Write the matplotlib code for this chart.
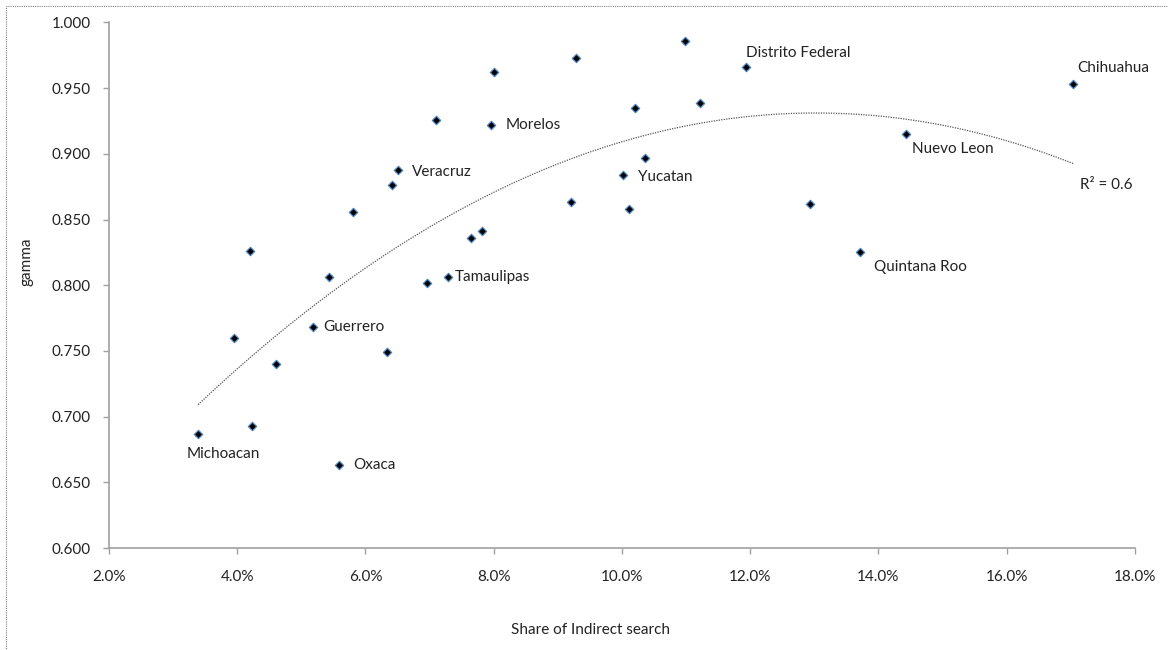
import numpy as np
import matplotlib
matplotlib.use("Agg")
import matplotlib.pyplot as plt
from matplotlib.patches import Rectangle
from matplotlib.ticker import FuncFormatter

plt.rcParams['font.family'] = ['Lato', 'DejaVu Sans']

# share of indirect search (%), gamma
share = [3.39, 4.23, 5.59, 4.20, 3.95, 4.61, 5.18, 5.43, 6.33, 5.80,
         6.41, 6.96, 7.28, 6.51, 7.10, 8.01, 7.96, 9.29, 10.20, 10.36,
         10.02, 9.20, 10.11, 7.81, 7.65, 10.99, 11.94, 11.21, 12.94, 13.71,
         14.43, 17.04]
gamma = [0.687, 0.693, 0.663, 0.826, 0.760, 0.740, 0.768, 0.806, 0.749, 0.856,
         0.876, 0.802, 0.806, 0.888, 0.926, 0.962, 0.922, 0.973, 0.935, 0.897,
         0.884, 0.863, 0.858, 0.841, 0.836, 0.986, 0.966, 0.939, 0.862, 0.825,
         0.915, 0.953]

# labelled states: index into the arrays above
labels = {0: "Michoacan", 2: "Oxaca", 6: "Guerrero", 12: "Tamaulipas",
          13: "Veracruz", 16: "Morelos", 20: "Yucatan", 26: "Distrito Federal",
          29: "Quintana Roo", 30: "Nuevo Leon", 31: "Chihuahua"}
# label placement (offset pixels, ha, va)
label_pos = {0: (-11, -20, 'left', 'center'), 2: (14, 0, 'left', 'center'),
             6: (10, 0, 'left', 'center'), 12: (7, 0, 'left', 'center'),
             13: (14, -2, 'left', 'center'), 16: (14, 0, 'left', 'center'),
             20: (15, -2, 'left', 'center'), 26: (0, 14, 'left', 'center'),
             29: (14, -15, 'left', 'center'), 30: (6, -15, 'left', 'center'),
             31: (4, 16, 'left', 'center')}

x = np.array(share)
y = np.array(gamma)

fig = plt.figure(figsize=(11.68, 6.5), dpi=100)
ax = fig.add_axes([0.0933, 0.1569, 0.8784, 0.8085])

# dotted chart border
fig.patches.append(Rectangle((6 / 1168, -0.05), 1.2, 1 - 6 / 650 + 0.05,
                             transform=fig.transFigure, fill=False,
                             ls=(0, (1, 1)), lw=0.8, ec='#808080'))

# quadratic trendline
coef = np.polyfit(x, y, 2)
xt = np.linspace(x.min(), x.max(), 200)
ax.plot(xt, np.polyval(coef, xt), ls=(0, (1, 1)), lw=0.9, color='#555555')

ax.scatter(x, y, marker='D', s=18, c='black', edgecolors='#4f81bd',
           linewidths=0.9, zorder=3)

for i, name in labels.items():
    dx, dy, ha, va = label_pos[i]
    ax.annotate(name, (x[i], y[i]), xytext=(dx, dy), textcoords='offset pixels',
                ha=ha, va=va, fontsize=11, color='#222222')

ax.text(17.15, 0.8763, "R² = 0.6", fontsize=11, color='#222222',
        ha='left', va='center')

ax.set_xlim(2, 18)
ax.set_ylim(0.6, 1.0)
ax.set_xticks(np.arange(2, 18.1, 2))
ax.set_yticks(np.arange(0.6, 1.001, 0.05))
ax.xaxis.set_major_formatter(FuncFormatter(lambda v, p: f"{v:.1f}%"))
ax.yaxis.set_major_formatter(FuncFormatter(lambda v, p: f"{v:.3f}"))

for s in ['top', 'right']:
    ax.spines[s].set_visible(False)
for s in ['left', 'bottom']:
    ax.spines[s].set_color('#a0a0a0')
    ax.spines[s].set_linewidth(1.2)
ax.tick_params(axis='both', direction='out', length=4, width=1, color='#a0a0a0',
               labelsize=11, labelcolor='#222222')
ax.tick_params(axis='x', pad=12)
ax.tick_params(axis='y', pad=9)

ax.set_xlabel("Share of Indirect search", fontsize=11, color='#222222')
ax.set_ylabel("gamma", fontsize=11, color='#222222')
ax.xaxis.set_label_coords(0.469, -0.143)
ax.yaxis.set_label_coords(-0.074, 0.545)

fig.savefig("out.png", dpi=100)
